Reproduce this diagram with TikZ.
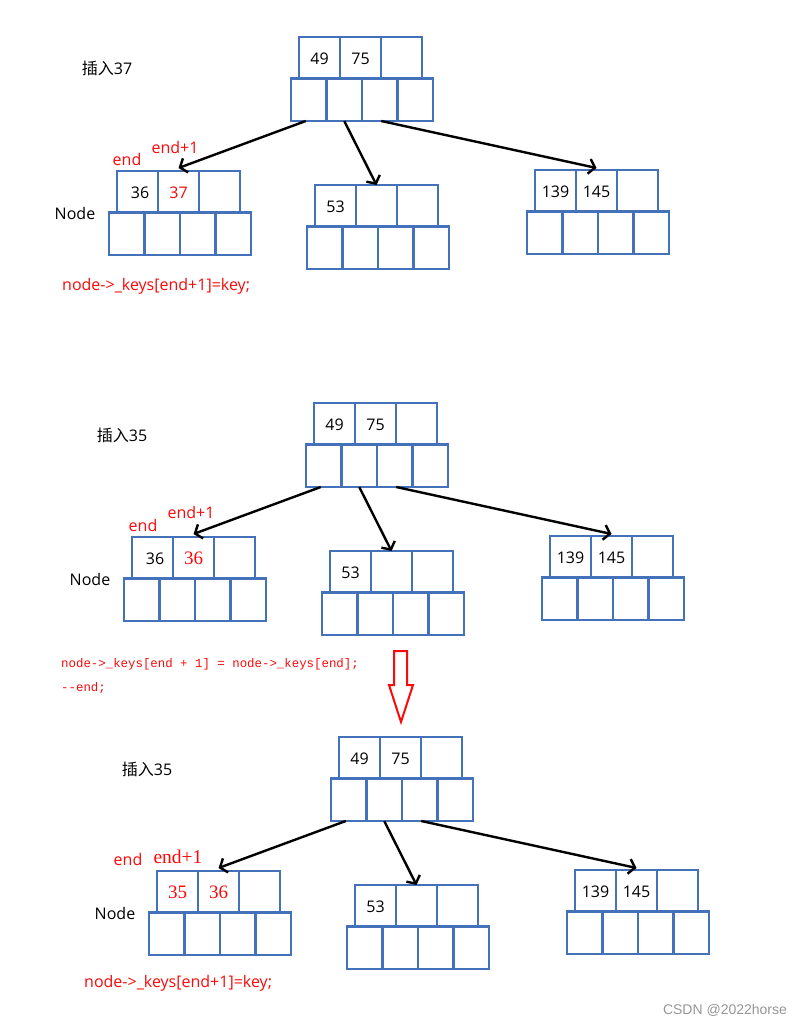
\documentclass[tikz,border=0pt]{standalone}
\usepackage{fontspec}
\setmainfont{Open Sans}
\newfontfamily\cjkfont{Noto Sans CJK SC}
\newfontfamily\numserif{Liberation Serif}
\newfontfamily\codefont{Liberation Mono}
\newfontfamily\markfont{Liberation Sans}
\usetikzlibrary{arrows.meta}

\definecolor{boxblue}{RGB}{68,114,186}
\definecolor{hired}{RGB}{250,10,10}
\definecolor{markgray}{RGB}{150,150,150}

\tikzset{
  keycell/.style={draw=boxblue, line width=2.3pt, minimum width=41pt, minimum height=41.5pt,
    inner sep=0pt, outer sep=0pt, anchor=north west, text height=13.5pt,
    font=\fontsize{16}{19}\selectfont},
  ptrcell/.style={draw=boxblue, line width=2.3pt, minimum width=35.5pt, minimum height=42.5pt,
    inner sep=0pt, outer sep=0pt, anchor=north west},
  link/.style={draw=black, line width=2.4pt, -{Straight Barb[length=6pt,width=15pt]}},
  lbl/.style={inner sep=0pt, font=\fontsize{16}{19}\selectfont},
  redlbl/.style={lbl, text=hired},
  serifred/.style={inner sep=0pt, text=hired, font=\numserif\fontsize{19.5}{22}\selectfont},
  codeline/.style={inner sep=0pt, anchor=west, text=hired, font=\codefont\fontsize{12.4}{14}\selectfont},
  hollowarrow/.style={draw=hired, line width=2pt, line join=miter},
}

% red serif key inside a cell
\newcommand\serifkey[1]{{\numserif\fontsize{19}{22}\selectfont\color{hired}#1}}

% one B-tree node: a row of three key cells above a row of four child pointers
% #1 name, #2 #3 top-left corner of the key row, #4-#6 keys
\newcommand\btnode[6]{%
  \node[keycell] (#1k1) at (#2,#3) {#4};
  \node[keycell] (#1k2) at ({#2+41},#3) {#5};
  \node[keycell] (#1k3) at ({#2+82},#3) {#6};
  \node[ptrcell] (#1p1) at ({#2-8},{#3+41.5}) {};
  \node[ptrcell] (#1p2) at ({#2+27.5},{#3+41.5}) {};
  \node[ptrcell] (#1p3) at ({#2+63},{#3+41.5}) {};
  \node[ptrcell] (#1p4) at ({#2+98.5},{#3+41.5}) {};
}

% the small tree: root 49|75 with three children
% #1 name prefix, #2 #3 keys of the leftmost child
\newcommand\bttree[3]{%
  \btnode{#1root}{299}{37}{49}{75}{}
  \btnode{#1left}{117}{171}{#2}{#3}{}
  \btnode{#1mid}{315}{185}{53}{}{}
  \btnode{#1right}{535}{170}{139}{145}{}
  \draw[link] ([xshift=-3pt]#1rootp1.south) -- ([yshift=3pt]#1leftk2.north);
  \draw[link] (#1rootp2.south) -- (#1midk2.north);
  \draw[link] ([xshift=1.5pt]#1rootp3.south) -- ([yshift=2pt]#1rightk2.north);
}

\begin{document}
\begin{tikzpicture}[x=1pt,y=-1pt]
\fill[white] (0,0) rectangle (804,1025);
\useasboundingbox (0,0) rectangle (804,1025);

% ---- insert 37 ----
\bttree{A}{\hspace{5pt}36}{\textcolor{hired}{37}\hspace{4pt}}
\node[lbl] (titleA) at (107,68) {{\cjkfont 插入}37};
\node[redlbl] (endA) at (127,159) {end};
\node[redlbl] (endnA) at (175,147) {end+1};
\node[lbl] (nodeA) at (75,213) {Node};
\node[redlbl, anchor=west] (codeA) at (62,286) {node->\_keys[end+1]=key;};

% ---- insert 35: shift the last key right ----
\begin{scope}[shift={(15,366)}]
  \bttree{B}{\hspace{5pt}36}{\serifkey{36}}
\end{scope}
\node[lbl] (titleB) at (122,435) {{\cjkfont 插入}35};
\node[redlbl] (endB) at (143,525) {end};
\node[redlbl] (endnB) at (191,512) {end+1};
\node[lbl] (nodeB) at (90,579) {Node};
\node[codeline] (codeB1) at (61,664) {node->\_keys[end + 1] = node->\_keys[end];};
\node[codeline] (codeB2) at (61,688) {-{}-end;};

% hollow arrow leading to the next step
\draw[hollowarrow] (394,651) -- (407,651) -- (407,685) -- (413,685) -- (401,722)
  -- (389,685) -- (394,685) -- cycle;

% ---- insert 35: store the new key ----
\begin{scope}[shift={(40,700)}]
  \bttree{C}{\serifkey{35}}{\serifkey{36}}
\end{scope}
\node[lbl] (titleC) at (147,769) {{\cjkfont 插入}35};
\node[redlbl] (endC) at (128,859) {end};
\node[serifred] (endnC) at (178,857) {end+1};
\node[lbl] (nodeC) at (115,913) {Node};
\node[redlbl, anchor=west] (codeC) at (84,983) {node->\_keys[end+1]=key;};

\node[inner sep=0pt, text=markgray, font=\markfont\fontsize{14}{16}\selectfont] (mark) at (725,1010) {CSDN @2022horse};
\end{tikzpicture}
\end{document}
